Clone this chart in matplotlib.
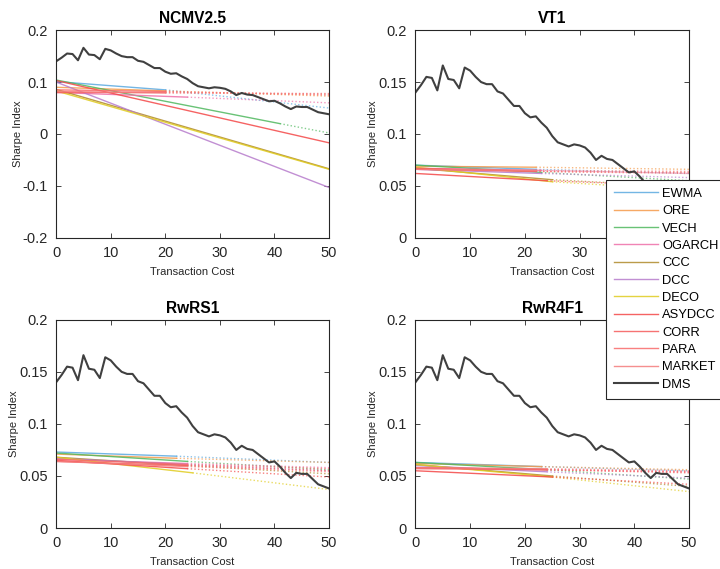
import numpy as np
import matplotlib.pyplot as plt
from matplotlib.ticker import FuncFormatter

plt.rcParams['font.family'] = ['Liberation Sans', 'DejaVu Sans']

# transaction cost grid and the DMS Sharpe index (same in every panel)
tc = np.arange(0, 51)
dms = [0.140, 0.147, 0.155, 0.154, 0.142, 0.166, 0.153, 0.152, 0.144, 0.164,
       0.161, 0.155, 0.150, 0.148, 0.148, 0.141, 0.139, 0.133, 0.127, 0.127,
       0.120, 0.116, 0.117, 0.111, 0.106, 0.098, 0.092, 0.090, 0.088, 0.090,
       0.089, 0.087, 0.082, 0.075, 0.079, 0.076, 0.075, 0.071, 0.067, 0.063,
       0.064, 0.059, 0.053, 0.048, 0.053, 0.052, 0.052, 0.047, 0.042, 0.040,
       0.038]

models = ['EWMA', 'ORE', 'VECH', 'OGARCH', 'CCC', 'DCC', 'DECO',
          'ASYDCC', 'CORR', 'PARA', 'MARKET']
colors = ['#5aa9e0', '#f59a4a', '#4fb85e', '#ee6fa8', '#b08a2a', '#b77ccc',
          '#e0cc20', '#f44848', '#f55a5a', '#f86a6a', '#f47c7c']

panels = ['NCMV2.5', 'VT1', 'RwRS1', 'RwR4F1']

# per model: value at cost 0, cost where the solid part stops, value there, value at cost 50
ncmv_at0 = [0.101, 0.090, 0.104, 0.080, 0.086, 0.100, 0.083, 0.103, 0.080, 0.085, 0.082]
ncmv_cut = [20, 20, 41, 24, 50, 50, 50, 50, 20, 20, 20]
ncmv_atcut = [0.085, 0.083, 0.020, 0.071, -0.067, -0.103, -0.068, -0.017, 0.080, 0.082, 0.079]
ncmv_at50 = [0.050, 0.073, 0.002, 0.060, -0.067, -0.103, -0.068, -0.017, 0.077, 0.075, 0.078]

vt_at0 = [0.070, 0.069, 0.070, 0.067, 0.067, 0.066, 0.068, 0.062, 0.067, 0.066, 0.066]
vt_cut = [22, 22, 23, 23, 25, 23, 25, 24, 22, 22, 22]
vt_atcut = [0.066, 0.068, 0.063, 0.065, 0.056, 0.062, 0.054, 0.055, 0.064, 0.064, 0.065]
vt_at50 = [0.062, 0.066, 0.055, 0.062, 0.049, 0.058, 0.046, 0.050, 0.063, 0.062, 0.064]

rs_at0 = [0.073, 0.071, 0.072, 0.066, 0.068, 0.067, 0.068, 0.065, 0.064, 0.066, 0.064]
rs_cut = [22, 22, 24, 24, 24, 24, 25, 24, 24, 24, 24]
rs_atcut = [0.069, 0.067, 0.064, 0.062, 0.060, 0.061, 0.053, 0.057, 0.060, 0.061, 0.059]
rs_at50 = [0.063, 0.063, 0.056, 0.058, 0.052, 0.055, 0.037, 0.049, 0.055, 0.057, 0.054]

r4_at0 = [0.063, 0.062, 0.063, 0.058, 0.061, 0.060, 0.061, 0.055, 0.058, 0.057, 0.058]
r4_cut = [23, 23, 24, 24, 25, 24, 25, 25, 24, 24, 24]
r4_atcut = [0.059, 0.059, 0.056, 0.056, 0.050, 0.054, 0.049, 0.049, 0.056, 0.056, 0.057]
r4_at50 = [0.055, 0.056, 0.047, 0.054, 0.040, 0.048, 0.035, 0.042, 0.053, 0.054, 0.055]

panel_data = [
    (ncmv_at0, ncmv_cut, ncmv_atcut, ncmv_at50),
    (vt_at0, vt_cut, vt_atcut, vt_at50),
    (rs_at0, rs_cut, rs_atcut, rs_at50),
    (r4_at0, r4_cut, r4_atcut, r4_at50),
]

fig = plt.figure(figsize=(7.2, 5.69), dpi=100)
positions = [[0.078, 0.582, 0.379, 0.365], [0.577, 0.582, 0.380, 0.365],
             [0.078, 0.072, 0.379, 0.366], [0.577, 0.072, 0.380, 0.366]]

fmt = FuncFormatter(lambda v, p: '%g' % round(v, 3))
handles = []
for k, (name, (at0, cut, atcut, at50)) in enumerate(zip(panels, panel_data)):
    ax = fig.add_axes(positions[k])
    for i, m in enumerate(models):
        h, = ax.plot([0, cut[i]], [at0[i], atcut[i]], color=colors[i], lw=1.0,
                     alpha=0.85, label=m)
        if cut[i] < 50:
            ax.plot([cut[i], 50], [atcut[i], at50[i]], color=colors[i], lw=1.0,
                    alpha=0.7, linestyle=(0, (1, 1.6)))
        if k == 1:
            handles.append(h)
    h, = ax.plot(tc, dms, color='#404040', lw=1.5, label='DMS')
    if k == 1:
        handles.append(h)

    ax.set_xlim(0, 50)
    ax.set_xticks(np.arange(0, 51, 10))
    if k == 0:
        ax.set_ylim(-0.2, 0.2)
        ax.set_yticks(np.arange(-0.2, 0.21, 0.1))
    else:
        ax.set_ylim(0, 0.2)
        ax.set_yticks(np.arange(0, 0.201, 0.05))
    ax.yaxis.set_major_formatter(fmt)
    ax.set_title(name, fontsize=11.2, fontweight='bold', pad=5)
    ax.set_xlabel('Transaction Cost', fontsize=8, color='#262626', labelpad=5)
    ax.set_ylabel('Sharpe Index', fontsize=8, color='#262626', labelpad=0)
    ax.tick_params(direction='in', top=True, right=True, length=3.5, width=0.6,
                   labelsize=10.5, colors='#262626')
    ax.tick_params(axis='x', pad=6)
    ax.tick_params(axis='y', pad=6)
    for s in ax.spines.values():
        s.set_color('#262626')
        s.set_linewidth(0.8)

# legend sits over the right panels and runs off the figure edge
leg = fig.legend(handles=handles, loc='upper left', bbox_to_anchor=(0.842, 0.684),
                 borderaxespad=0, fontsize=9.3, frameon=True, fancybox=False,
                 edgecolor='#262626', handlelength=3.4, handletextpad=0.3,
                 labelspacing=0.41, borderpad=0.62, framealpha=1)
leg.get_frame().set_linewidth(0.8)

fig.savefig('out.png', dpi=100)
